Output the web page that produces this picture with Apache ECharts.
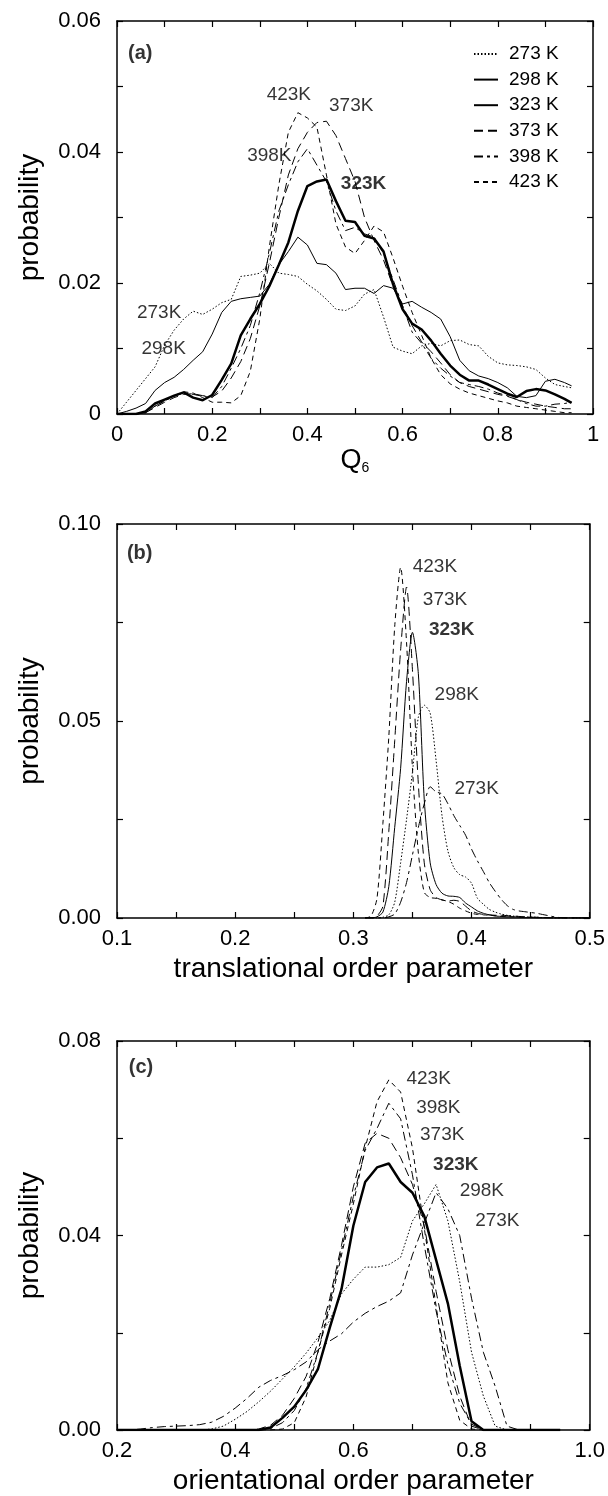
<!DOCTYPE html>
<html>
<head>
<meta charset="utf-8">
<script src="https://cdn.jsdelivr.net/npm/echarts@6/dist/echarts.min.js"></script>
<style>
  html, body { margin: 0; padding: 0; background: #fff; }
  #chart { width: 608px; height: 1496px; }
</style>
</head>
<body>
<div id="chart"></div>
<script>
const FONT = '"Liberation Sans", Arial, Helvetica, sans-serif'

// ---- panel (a): Q6 distribution ----
const xA = [0, 0.02, 0.04, 0.06, 0.08, 0.10, 0.12, 0.14, 0.16, 0.18, 0.20, 0.22, 0.24, 0.26, 0.28, 0.30, 0.32, 0.34, 0.36, 0.38,
  0.40, 0.42, 0.44, 0.46, 0.48, 0.50, 0.52, 0.54, 0.56, 0.58, 0.60, 0.62, 0.64, 0.66, 0.68, 0.70, 0.72, 0.74, 0.76, 0.78,
  0.80, 0.82, 0.84, 0.86, 0.88, 0.90, 0.92, 0.94, 0.955]
const a273 = [0, 0.0018, 0.0036, 0.0054, 0.0072, 0.0105, 0.0128, 0.0145, 0.0157, 0.0152, 0.016, 0.017, 0.0175, 0.021, 0.0212,
  0.0215, 0.023, 0.0215, 0.0213, 0.021, 0.0198, 0.0188, 0.0175, 0.016, 0.0158, 0.0165, 0.0183, 0.019, 0.0148, 0.0102,
  0.0096, 0.0092, 0.0104, 0.0108, 0.0104, 0.0112, 0.0113, 0.0106, 0.0104, 0.0088, 0.0078, 0.0075, 0.0074, 0.0072, 0.0068,
  0.0055, 0.0045, 0.0042, 0.004]
const a298 = [0, 0.0004, 0.0009, 0.0016, 0.0036, 0.0048, 0.0056, 0.0068, 0.0082, 0.0095, 0.0122, 0.0155, 0.0172, 0.0176, 0.0178,
  0.018, 0.0198, 0.0228, 0.0248, 0.027, 0.0258, 0.023, 0.0228, 0.0215, 0.019, 0.0192, 0.0192, 0.0184, 0.0196, 0.0192,
  0.0168, 0.0172, 0.0163, 0.0155, 0.0145, 0.0118, 0.0082, 0.0066, 0.0058, 0.0054, 0.0048, 0.004, 0.0027, 0.0025, 0.0028,
  0.005, 0.0053, 0.0048, 0.0043]
const a323 = [0, 0, 0, 0.0004, 0.0016, 0.0022, 0.0028, 0.0033, 0.0025, 0.0021, 0.0029, 0.0052, 0.0077, 0.012, 0.0145,
  0.0168, 0.0195, 0.0228, 0.0262, 0.031, 0.0348, 0.0355, 0.0358, 0.0325, 0.0295, 0.0293, 0.0272, 0.0268, 0.0248, 0.0198,
  0.016, 0.0138, 0.0129, 0.0112, 0.0092, 0.0074, 0.006, 0.0051, 0.0051, 0.0045, 0.0038, 0.0031, 0.0026, 0.0035, 0.0038,
  0.0036, 0.003, 0.0023, 0.0017]
const a373 = [0, 0, 0, 0.0002, 0.001, 0.0018, 0.0025, 0.003, 0.0031, 0.0028, 0.0026, 0.0035, 0.0055, 0.008, 0.0115,
  0.0165, 0.023, 0.03, 0.0365, 0.0405, 0.043, 0.0445, 0.0447, 0.0425, 0.039, 0.0355, 0.03, 0.0265, 0.0235, 0.0195,
  0.0165, 0.0135, 0.011, 0.0095, 0.0078, 0.006, 0.0048, 0.0042, 0.0038, 0.0034, 0.003, 0.0027, 0.0022, 0.0018, 0.0015,
  0.0012, 0.001, 0.0008, 0.0008]
const a398 = [0, 0, 0, 0.0002, 0.0012, 0.002, 0.0027, 0.0032, 0.003, 0.0027, 0.0025, 0.0042, 0.007, 0.01, 0.0135,
  0.0185, 0.0245, 0.031, 0.035, 0.0385, 0.0405, 0.038, 0.0355, 0.031, 0.028, 0.0285, 0.0275, 0.027, 0.0245, 0.0205,
  0.0165, 0.0125, 0.0108, 0.0085, 0.007, 0.0058, 0.0048, 0.0045, 0.0042, 0.0038, 0.0032, 0.0028, 0.0022, 0.0016, 0.0012,
  0.0012, 0.0015, 0.0016, 0.0018]
const a423 = [0, 0, 0, 0.0002, 0.0012, 0.002, 0.0028, 0.0034, 0.0032, 0.0025, 0.0018, 0.0018, 0.0017, 0.0028, 0.0065,
  0.0145, 0.0255, 0.035, 0.043, 0.046, 0.0452, 0.0438, 0.0365, 0.029, 0.0255, 0.0245, 0.0265, 0.0287, 0.0278, 0.0238,
  0.0195, 0.0155, 0.012, 0.0085, 0.006, 0.0046, 0.0038, 0.0032, 0.0028, 0.0024, 0.002, 0.0017, 0.0012, 0.001, 0.0008,
  0.0006, 0.0004, 0.0002, 0.0002]

// ---- panel (b): translational order parameter ----
const xB = [0.31, 0.315, 0.32, 0.325, 0.33, 0.335, 0.34, 0.345, 0.35, 0.355, 0.36, 0.365, 0.37, 0.375, 0.38, 0.385, 0.39,
  0.395, 0.40, 0.405, 0.41, 0.415, 0.42, 0.425, 0.43, 0.435, 0.44, 0.445, 0.45, 0.455, 0.46, 0.465, 0.47, 0.475, 0.48,
  0.485, 0.49, 0.495, 0.50]
const b423 = [0, 0.0005, 0.005, 0.024, 0.046, 0.074, 0.089, 0.07, 0.038, 0.0165, 0.0065, 0.0052, 0.005, 0.0046, 0.0042,
  0.0035, 0.0025, 0.0018, 0.0012, 0.0009, 0.0008, 0.0007, 0.0006, 0.0005, 0.0004, 0.0003, 0.0003, 0.0002, 0.0002, 0.0001,
  0.0001, 0.0001, 0, 0, 0, 0, 0, 0, 0]
const b373 = [0, 0, 0.0005, 0.003, 0.022, 0.045, 0.068, 0.084, 0.063, 0.034, 0.014, 0.0072, 0.0052, 0.0046, 0.0043,
  0.0045, 0.0042, 0.003, 0.0018, 0.0012, 0.0009, 0.0008, 0.0007, 0.0007, 0.0006, 0.0005, 0.0004, 0.0003, 0.0002, 0.0002,
  0.0001, 0, 0, 0, 0, 0, 0, 0, 0]
const b323 = [0, 0, 0.0003, 0.0015, 0.008, 0.023, 0.038, 0.06, 0.0725, 0.062, 0.03, 0.014, 0.0085, 0.0063, 0.0056,
  0.0055, 0.0052, 0.0038, 0.0028, 0.0018, 0.0012, 0.0008, 0.0005, 0.0004, 0.0003, 0.0003, 0.0002, 0.0001, 0.0001, 0,
  0, 0, 0, 0, 0, 0, 0, 0, 0]
const b298 = [0, 0, 0, 0.0002, 0.0008, 0.004, 0.014, 0.025, 0.037, 0.051, 0.054, 0.052, 0.04, 0.026, 0.017,
  0.0128, 0.011, 0.0104, 0.0088, 0.005, 0.0035, 0.0022, 0.0015, 0.001, 0.0007, 0.0005, 0.0004, 0.0003, 0.0002, 0.0002,
  0.0001, 0.0001, 0, 0, 0, 0, 0, 0, 0]
const b273 = [0, 0, 0, 0, 0.0003, 0.001, 0.004, 0.009, 0.016, 0.023, 0.029, 0.0333, 0.032, 0.0315, 0.029,
  0.026, 0.0235, 0.021, 0.0175, 0.0145, 0.0118, 0.009, 0.0068, 0.0048, 0.0032, 0.0022, 0.0018, 0.0016, 0.0014, 0.0012,
  0.0009, 0.0006, 0.0003, 0.0001, 0, 0, 0, 0, 0]

// ---- panel (c): orientational order parameter ----
const xC = [0.20, 0.22, 0.24, 0.26, 0.28, 0.30, 0.32, 0.34, 0.36, 0.38, 0.40, 0.42, 0.44, 0.46, 0.48, 0.50, 0.52, 0.54,
  0.56, 0.58, 0.60, 0.62, 0.64, 0.66, 0.68, 0.70, 0.72, 0.74, 0.76, 0.78, 0.80, 0.82, 0.84, 0.86, 0.88, 0.90, 0.92, 0.94, 0.95]
const c423 = [0, 0, 0, 0, 0, 0, 0, 0, 0, 0, 0, 0, 0, 0, 0.0002, 0.0015, 0.0068, 0.016, 0.025, 0.036,
  0.0465, 0.058, 0.0675, 0.072, 0.0695, 0.058, 0.0415, 0.0255, 0.0097, 0.002, 0.0002, 0, 0, 0, 0, 0, 0, 0, 0]
const c398 = [0, 0, 0, 0, 0, 0, 0, 0, 0, 0, 0, 0, 0, 0.0003, 0.0015, 0.004, 0.0085, 0.016, 0.026, 0.037,
  0.048, 0.0575, 0.062, 0.0672, 0.064, 0.0525, 0.038, 0.0245, 0.0135, 0.0055, 0.0012, 0, 0, 0, 0, 0, 0, 0, 0]
const c373 = [0, 0, 0, 0, 0, 0, 0, 0, 0, 0, 0, 0, 0.0002, 0.001, 0.003, 0.0065, 0.011, 0.018, 0.027, 0.038,
  0.05, 0.059, 0.061, 0.06, 0.056, 0.0505, 0.042, 0.0285, 0.0165, 0.007, 0.0008, 0, 0, 0, 0, 0, 0, 0, 0]
const c323 = [0, 0, 0, 0, 0, 0, 0, 0, 0, 0, 0, 0, 0, 0.0005, 0.0025, 0.0048, 0.0082, 0.0125, 0.021, 0.029,
  0.042, 0.051, 0.054, 0.0548, 0.051, 0.0488, 0.044, 0.035, 0.026, 0.0132, 0.0018, 0, 0, 0, 0, 0, 0, 0, 0]
const c298 = [0, 0, 0, 0, 0, 0, 0, 0, 0.0002, 0.0008, 0.0022, 0.0038, 0.0058, 0.008, 0.0105, 0.013, 0.0158, 0.019, 0.0225, 0.028,
  0.031, 0.0335, 0.0335, 0.034, 0.0355, 0.043, 0.0465, 0.0505, 0.043, 0.0305, 0.016, 0.007, 0.0008, 0, 0, 0, 0, 0, 0]
const c273 = [0, 0, 0.0002, 0.0005, 0.0007, 0.0008, 0.0009, 0.0011, 0.0016, 0.0028, 0.0045, 0.0065, 0.0088, 0.0102, 0.0112,
  0.0124, 0.014, 0.0165, 0.0183, 0.0198, 0.0222, 0.024, 0.0254, 0.0265, 0.0282, 0.036, 0.0425, 0.0488, 0.0455, 0.04,
  0.0271, 0.016, 0.009, 0.0008, 0, 0, 0, 0, 0]

// tick labels
const xTicksA = [0, 0.2, 0.4, 0.6, 0.8, 1]
const xTickLabelsA = ['0', '0.2', '0.4', '0.6', '0.8', '1']
const yTicksA = [0, 0.02, 0.04, 0.06]
const yTickLabelsA = ['0', '0.02', '0.04', '0.06']
const xTicksB = [0.1, 0.2, 0.3, 0.4, 0.5]
const xTickLabelsB = ['0.1', '0.2', '0.3', '0.4', '0.5']
const yTicksB = [0, 0.05, 0.1]
const yTickLabelsB = ['0.00', '0.05', '0.10']
const xTicksC = [0.2, 0.4, 0.6, 0.8, 1.0]
const xTickLabelsC = ['0.2', '0.4', '0.6', '0.8', '1.0']
const yTicksC = [0, 0.04, 0.08]
const yTickLabelsC = ['0.00', '0.04', '0.08']

// in-plot annotations (data coordinates)
const annoTextA = ['423K', '373K', '398K', '323K', '273K', '298K']
const annoXA = [0.361, 0.492, 0.32, 0.518, 0.0885, 0.098]
const annoYA = [0.0487, 0.047, 0.0394, 0.0351, 0.0155, 0.0100]
const annoTextB = ['423K', '373K', '323K', '298K', '273K']
const annoXB = [0.369, 0.3776, 0.3832, 0.3875, 0.4043]
const annoYB = [0.0892, 0.0807, 0.0731, 0.0566, 0.0329]
const annoTextC = ['423K', '398K', '373K', '323K', '298K', '273K']
const annoXC = [0.7274, 0.7438, 0.7504, 0.7734, 0.8174, 0.8437]
const annoYC = [0.0722, 0.0663, 0.0607, 0.0545, 0.0491, 0.043]
const tagText = ['(a)', '(b)', '(c)']
const tagX = [0.022, 0.108, 0.219]
const tagY = [0.0551, 0.0926, 0.0746]

const names = ['273 K', '298 K', '323 K', '373 K', '398 K', '423 K']

const LS = {
  dotted: { type: [1.5, 2], width: 1 },
  thin: { type: 'solid', width: 1 },
  thick: { type: 'solid', width: 2.5 },
  long: { type: [9, 5], width: 1 },
  dashdot: { type: [9, 4, 3, 4], width: 1 },
  short: { type: [5, 4], width: 1 }
}

const grids = [
  { left: 117, right: 15, top: 21, height: 393 },
  { left: 117, right: 15, top: 524, height: 394 },
  { left: 117, right: 15, top: 1041, height: 395 }
]

const pick = (ticks, labels) => v => {
  const i = ticks.findIndex(t => Math.abs(t - v) < 1e-6)
  return i >= 0 ? labels[i] : ''
}

const tickStyle = { inside: true, length: 6, lineStyle: { color: '#000', width: 1.2 } }
const lineStyle = { onZero: false, lineStyle: { color: '#000', width: 1.5 } }
const labelFont = { fontFamily: FONT, fontSize: 22, color: '#000' }
const nameFont = { fontFamily: FONT, fontSize: 28, color: '#000' }

const xAxes = []
const yAxes = []
const addAxes = (g, x, y) => {
  xAxes.push({
    type: 'value', gridIndex: g, position: 'bottom', min: x.min, max: x.max, interval: x.step,
    axisLine: lineStyle, axisTick: tickStyle, splitLine: { show: false },
    axisLabel: Object.assign({ margin: 10, showMinLabel: true, showMaxLabel: true, formatter: pick(x.ticks, x.labels) }, labelFont),
    name: x.name, nameLocation: 'middle', nameGap: x.gap,
    nameTextStyle: x.nameStyle || nameFont
  })
  xAxes.push({
    type: 'value', gridIndex: g, position: 'top', min: x.min, max: x.max, interval: x.step,
    axisLine: lineStyle, axisTick: tickStyle, axisLabel: { show: false }, splitLine: { show: false }
  })
  yAxes.push({
    type: 'value', gridIndex: g, position: 'left', min: y.min, max: y.max, interval: y.step,
    axisLine: lineStyle, axisTick: tickStyle, splitLine: { show: false },
    axisLabel: Object.assign({ margin: 16, showMinLabel: true, showMaxLabel: true, formatter: pick(y.ticks, y.labels) }, labelFont),
    name: 'probability', nameLocation: 'middle', nameRotate: 90, nameGap: 73,
    nameTextStyle: { fontFamily: FONT, fontSize: 28, color: '#000' }
  })
  yAxes.push({
    type: 'value', gridIndex: g, position: 'right', min: y.min, max: y.max, interval: y.step,
    axisLine: lineStyle, axisTick: tickStyle, axisLabel: { show: false }, splitLine: { show: false }
  })
}

addAxes(0,
  { min: 0, max: 1, step: 0.1, ticks: xTicksA, labels: xTickLabelsA, name: '{q|Q}{s|6}', gap: 17,
    nameStyle: { rich: {
      q: { fontFamily: FONT, fontSize: 27, color: '#000', lineHeight: 30, verticalAlign: 'middle' },
      s: { fontFamily: FONT, fontSize: 14, color: '#000', lineHeight: 12, verticalAlign: 'bottom' } } } },
  { min: 0, max: 0.06, step: 0.01, ticks: yTicksA, labels: yTickLabelsA })
addAxes(1,
  { min: 0.1, max: 0.5, step: 0.05, ticks: xTicksB, labels: xTickLabelsB, name: 'translational order parameter', gap: 37 },
  { min: 0, max: 0.1, step: 0.025, ticks: yTicksB, labels: yTickLabelsB })
addAxes(2,
  { min: 0.2, max: 1.0, step: 0.1, ticks: xTicksC, labels: xTickLabelsC, name: 'orientational order parameter', gap: 37 },
  { min: 0, max: 0.08, step: 0.02, ticks: yTicksC, labels: yTickLabelsC })

const zip = (xs, ys) => xs.map((x, i) => [x, ys[i]])

const curve = (name, g, xs, ys, style, smooth) => ({
  name: name, type: 'line', xAxisIndex: g * 2, yAxisIndex: g * 2,
  data: zip(xs, ys), symbol: 'none', showSymbol: false, smooth: smooth || false,
  lineStyle: Object.assign({ color: '#000' }, style), itemStyle: { color: '#000' },
  clip: true, silent: true, z: name === '323 K' ? 3 : 2
})

const annotations = (g, texts, xs, ys) => ({
  type: 'scatter', xAxisIndex: g * 2, yAxisIndex: g * 2, symbolSize: 1, silent: true, z: 6,
  itemStyle: { color: 'rgba(0,0,0,0)' },
  data: texts.map((t, i) => ({ value: [xs[i], ys[i]], name: t })),
  label: {
    show: true, position: 'inside', fontFamily: FONT, fontSize: 19, color: '#000',
    formatter: p => p.name === '323K' ? '{b|323K}' : p.name,
    rich: { b: { fontFamily: FONT, fontSize: 19, fontWeight: 'bold', color: '#000' } }
  }
})

const tag = g => ({
  type: 'scatter', xAxisIndex: g * 2, yAxisIndex: g * 2, symbolSize: 1, silent: true, z: 6,
  itemStyle: { color: 'rgba(0,0,0,0)' },
  data: [{ value: [tagX[g], tagY[g]], name: tagText[g] }],
  label: { show: true, position: 'right', distance: 0, formatter: p => p.name,
    fontFamily: FONT, fontSize: 20, fontWeight: 'bold', color: '#000' }
})

const series = [
  curve('273 K', 0, xA, a273, LS.dotted),
  curve('298 K', 0, xA, a298, LS.thin),
  curve('323 K', 0, xA, a323, LS.thick),
  curve('373 K', 0, xA, a373, LS.long),
  curve('398 K', 0, xA, a398, LS.dashdot),
  curve('423 K', 0, xA, a423, LS.short),

  curve('273K b', 1, xB, b273, LS.dashdot, 0.25),
  curve('298K b', 1, xB, b298, LS.dotted, 0.25),
  curve('323K b', 1, xB, b323, LS.thin, 0.25),
  curve('373K b', 1, xB, b373, LS.long, 0.25),
  curve('423K b', 1, xB, b423, LS.short, 0.25),

  curve('273K c', 2, xC, c273, LS.dashdot),
  curve('298K c', 2, xC, c298, LS.dotted),
  curve('323K c', 2, xC, c323, LS.thick),
  curve('373K c', 2, xC, c373, LS.long),
  curve('398K c', 2, xC, c398, LS.dashdot),
  curve('423K c', 2, xC, c423, LS.short),

  annotations(0, annoTextA, annoXA, annoYA),
  annotations(1, annoTextB, annoXB, annoYB),
  annotations(2, annoTextC, annoXC, annoYC),
  tag(0), tag(1), tag(2)
]

const chart = echarts.init(document.getElementById('chart'), null, { renderer: 'canvas' })
chart.setOption({
  animation: false,
  backgroundColor: '#fff',
  grid: grids,
  xAxis: xAxes,
  yAxis: yAxes,
  legend: {
    data: names, orient: 'vertical', left: 468, top: 39, selectedMode: false,
    itemWidth: 24, itemHeight: 14, itemGap: 5.6,
    itemStyle: { opacity: 0 },
    textStyle: { fontFamily: FONT, fontSize: 19, color: '#000', lineHeight: 20, padding: [0, 0, 0, 6] }
  },
  series: series
})
</script>
</body>
</html>
